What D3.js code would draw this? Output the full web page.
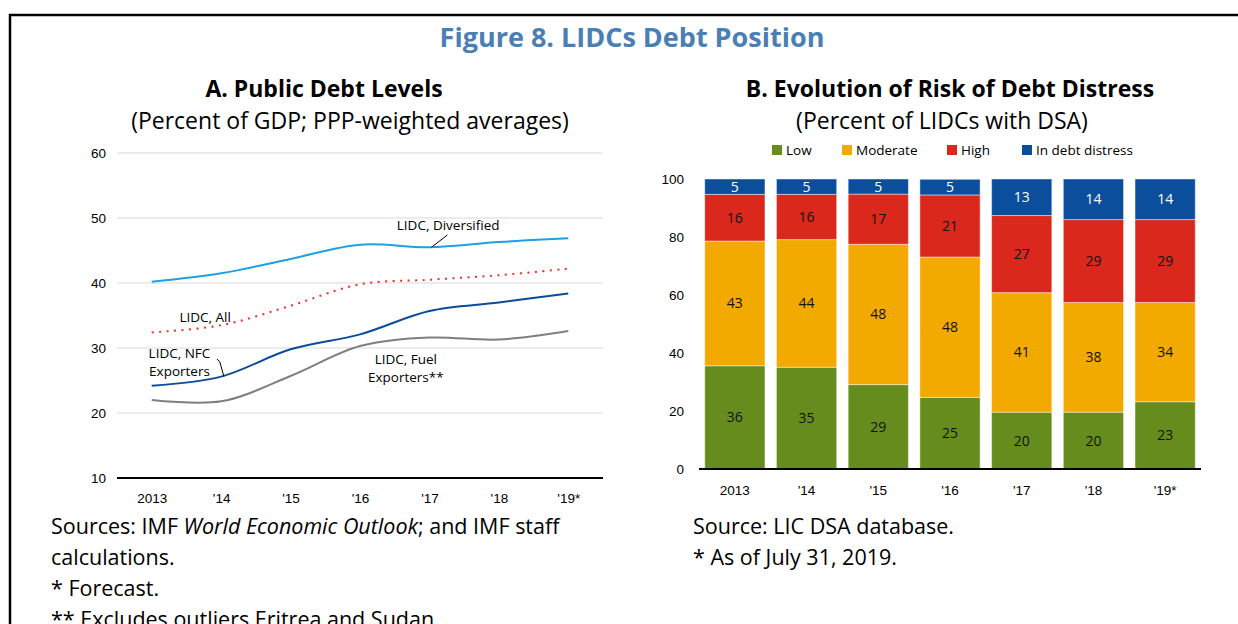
<!DOCTYPE html>
<html lang="en">
<head>
    <meta charset="UTF-8">
    <title>Figure 8. LIDCs Debt Position</title>
    <script src="https://d3js.org/d3.v7.min.js"></script>
    <style>
        body { margin: 0; background: #fff; }
        svg { font-family: "Open Sans", "Noto Sans", sans-serif; }
        .grid line { stroke: #d9d9d9; stroke-width: 1px; }
        .tick text { font-size: 13.5px; fill: #000; }
        .note { font-size: 21.5px; fill: #000; }
    </style>
</head>
<body>
    <svg width="1238" height="624"></svg>
    <script>
const years = ["2013", "'14", "'15", "'16", "'17", "'18", "'19*"];

// Panel A: public debt, percent of GDP
const diversified   = [40.2, 41.5, 43.7, 45.9, 45.5, 46.3, 46.9];
const lidcAll       = [32.4, 33.5, 36.5, 39.8, 40.5, 41.2, 42.2];
const nfcExporters  = [24.2, 25.6, 29.8, 32.1, 35.7, 37.0, 38.4];
const fuelExporters = [22.0, 21.8, 25.7, 30.3, 31.6, 31.3, 32.6];
const debtTicks = [10, 20, 30, 40, 50, 60];

// Panel B: risk of debt distress, percent of LIDCs with DSA
const riskNames    = ["Low", "Moderate", "High", "In debt distress"];
const riskLow      = [35.6, 35.1, 29.1, 24.7, 19.6, 19.6, 23.2];
const riskModerate = [43.0, 44.0, 48.4, 48.4, 41.2, 37.8, 34.2];
const riskHigh     = [16.1, 15.6, 17.3, 21.4, 26.6, 28.6, 28.6];
const riskDistress = [5.3, 5.3, 5.2, 5.4, 12.6, 14.0, 14.0];
const riskTicks = [0, 20, 40, 60, 80, 100];

const svg = d3.select("svg");

// frame
svg.append("rect")
   .attr("x", 10).attr("y", 15)
   .attr("width", 1260).attr("height", 700)
   .attr("fill", "none").attr("stroke", "#000").attr("stroke-width", 2.5);

svg.append("text")
   .attr("x", 632).attr("y", 47)
   .attr("text-anchor", "middle")
   .attr("font-size", 27).attr("font-weight", "bold")
   .attr("fill", "#4a7fb5")
   .text("Figure 8. LIDCs Debt Position");

function titles(cx1, cx2, title, sub) {
    svg.append("text").attr("x", cx1).attr("y", 97)
       .attr("text-anchor", "middle").attr("font-size", 23).attr("font-weight", "bold")
       .text(title);
    svg.append("text").attr("x", cx2).attr("y", 129)
       .attr("text-anchor", "middle").attr("font-size", 23)
       .text(sub);
}
titles(324, 350, "A. Public Debt Levels", "(Percent of GDP; PPP-weighted averages)");
titles(950, 942, "B. Evolution of Risk of Debt Distress", "(Percent of LIDCs with DSA)");

// ---------- Panel A ----------
const xA = d3.scalePoint().domain(years).range([117, 603]).padding(0.5);
const xIdx = d3.scaleLinear().domain([0, 6]).range([xA(years[0]), xA(years[6])]);
const yA = d3.scaleLinear().domain([10, 60]).range([478, 153]);

svg.append("g").attr("class", "grid")
   .selectAll("line").data(debtTicks.slice(1)).join("line")
   .attr("x1", 117).attr("x2", 603)
   .attr("y1", d => yA(d)).attr("y2", d => yA(d));

svg.append("line")
   .attr("x1", 117).attr("x2", 603)
   .attr("y1", yA(10)).attr("y2", yA(10))
   .attr("stroke", "#000").attr("stroke-width", 2);

svg.append("g").attr("transform", "translate(117,0)")
   .call(d3.axisLeft(yA).tickValues(debtTicks).tickSize(0).tickPadding(11))
   .call(g => g.select(".domain").remove());

svg.append("g").attr("transform", `translate(0,${yA(10)})`)
   .call(d3.axisBottom(xA).tickSize(0).tickPadding(15))
   .call(g => g.select(".domain").remove());

const line = d3.line()
    .x((d, i) => xA(years[i]))
    .y(d => yA(d))
    .curve(d3.curveCatmullRom.alpha(0.5));

const series = [
    { values: fuelExporters, color: "#7f7f7f", dash: null },
    { values: nfcExporters, color: "#0b4c99", dash: null },
    { values: lidcAll, color: "#e8312a", dash: "2,5.5" },
    { values: diversified, color: "#1ea0e2", dash: null }
];
series.forEach(s => {
    svg.append("path")
       .datum(s.values)
       .attr("d", line)
       .attr("fill", "none")
       .attr("stroke", s.color)
       .attr("stroke-width", 2)
       .attr("stroke-dasharray", s.dash);
});

// series labels, placed in data units (year index, percent of GDP)
const labels = [
    { lines: ["LIDC, Diversified"], i: 4.27, v: 48.2 },
    { lines: ["LIDC, All"], i: 0.77, v: 34.0 },
    { lines: ["LIDC, NFC", "Exporters"], i: 0.40, v: 28.4 },
    { lines: ["LIDC, Fuel", "Exporters**"], i: 3.66, v: 27.6 }
];
labels.forEach(l => {
    const t = svg.append("text")
       .attr("text-anchor", "middle").attr("font-size", 13.5);
    l.lines.forEach((s, k) => {
        t.append("tspan").attr("x", xIdx(l.i)).attr("y", yA(l.v) + k * 18).text(s);
    });
});

const leaders = [
    [[4.26, 47.4], [4.03, 45.5]],
    [[0.94, 28.3], [0.98, 27.9], [1.04, 25.6]]
];
leaders.forEach(pts => {
    svg.append("path")
       .attr("d", d3.line().x(p => xIdx(p[0])).y(p => yA(p[1]))(pts))
       .attr("fill", "none").attr("stroke", "#000").attr("stroke-width", 1);
});

// ---------- Panel B ----------
const xB = d3.scaleBand().domain(years).range([699, 1201])
    .paddingInner(0.16).paddingOuter(0.08);
const yB = d3.scaleLinear().domain([0, 100]).range([469, 179]);
const riskColors = ["#678c1e", "#f2a900", "#da291c", "#0b4f9c"];
const riskText = ["#111", "#111", "#111", "#fff"];

const table = years.map((y, i) => ({
    year: y,
    Low: riskLow[i],
    Moderate: riskModerate[i],
    High: riskHigh[i],
    "In debt distress": riskDistress[i]
}));
const stacked = d3.stack().keys(riskNames)(table);

const layers = svg.append("g").selectAll("g").data(stacked).join("g")
    .attr("fill", (d, k) => riskColors[k]);
layers.selectAll("rect").data(d => d).join("rect")
    .attr("x", d => xB(d.data.year))
    .attr("width", xB.bandwidth())
    .attr("y", d => yB(d[1]))
    .attr("height", d => yB(d[0]) - yB(d[1]))
    .attr("stroke", "rgba(255,255,255,0.45)")
    .attr("stroke-width", 1);

const fmt = d3.format(".0f");
stacked.forEach((layer, k) => {
    svg.append("g").selectAll("text").data(layer).join("text")
       .attr("x", d => xB(d.data.year) + xB.bandwidth() / 2)
       .attr("y", d => yB((d[0] + d[1]) / 2) + 5)
       .attr("text-anchor", "middle").attr("font-size", 14)
       .attr("fill", riskText[k])
       .text(d => fmt(d[1] - d[0]));
});

svg.append("line")
   .attr("x1", 699).attr("x2", 1201)
   .attr("y1", yB(0)).attr("y2", yB(0))
   .attr("stroke", "#000").attr("stroke-width", 2);

svg.append("g").attr("transform", "translate(699,0)")
   .call(d3.axisLeft(yB).tickValues(riskTicks).tickSize(0).tickPadding(15))
   .call(g => g.select(".domain").remove());

svg.append("g").attr("transform", `translate(0,${yB(0)})`)
   .call(d3.axisBottom(xB).tickSize(0).tickPadding(16))
   .call(g => g.select(".domain").remove());

// legend
const legendX = [772, 842, 947, 1022];
const legend = svg.append("g").selectAll("g").data(riskNames).join("g")
    .attr("transform", (d, k) => `translate(${legendX[k]},145)`);
legend.append("rect").attr("width", 10).attr("height", 10)
    .attr("fill", (d, k) => riskColors[k]);
legend.append("text").attr("x", 14).attr("y", 10)
    .attr("font-size", 13.5).text(d => d);

// ---------- notes ----------
const leftNotes = [
    ["Sources: IMF ", ["World Economic Outlook", true], "; and IMF staff"],
    ["calculations."],
    ["* Forecast."],
    ["** Excludes outliers Eritrea and Sudan."]
];
const rightNotes = [["Source: LIC DSA database."], ["* As of July 31, 2019."]];

function notes(list, x) {
    list.forEach((parts, k) => {
        const t = svg.append("text").attr("class", "note")
           .attr("x", x).attr("y", 534 + k * 31);
        parts.forEach(p => {
            if (Array.isArray(p)) t.append("tspan").attr("font-style", "italic").text(p[0]);
            else t.append("tspan").text(p);
        });
    });
}
notes(leftNotes, 51);
notes(rightNotes, 693);
    </script>
</body>
</html>
